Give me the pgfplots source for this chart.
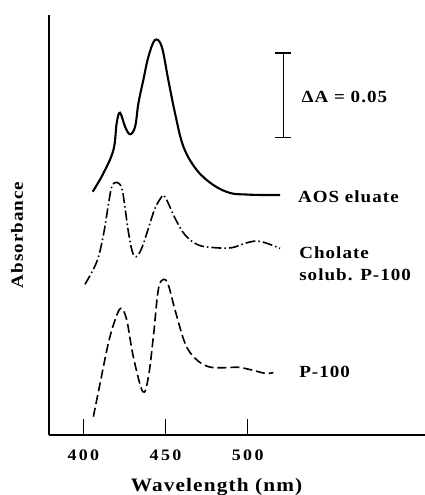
\documentclass[border=0pt]{standalone}
\usepackage{fontspec}
\setmainfont{Liberation Serif}[LetterSpace=6, FakeStretch=1.12]
\newfontfamily\tickfont{Liberation Serif}[LetterSpace=15, FakeStretch=1.12]
\usepackage{pgfplots}
\pgfplotsset{compat=1.18}

\begin{document}
\begin{tikzpicture}
\begin{axis}[
    scale only axis,
    width=376pt, height=420pt,
    xmin=379.1, xmax=607.9,
    ymin=0, ymax=420,
    axis x line=bottom, axis y line=left,
    axis line style={line width=1.4pt, -},
    xtick={400,450,500},
    ytick=\empty,
    tick align=inside,
    major tick length=16pt,
    tick style={line width=1.3pt, black},
    /pgf/number format/assume math mode=true,
    xticklabel style={font=\tickfont\bfseries\fontsize{16}{18}\selectfont, anchor=center, yshift=-20pt},
    xlabel={Wavelength (nm)},
    ylabel={Absorbance},
    xlabel style={font=\bfseries\fontsize{19}{21}\selectfont, at={(axis description cs:0.4455,0)}, anchor=center, yshift=-52pt},
    ylabel style={font=\bfseries\fontsize{17}{20}\selectfont, at={(axis description cs:0,0.476)}, anchor=center, yshift=32pt},
    clip=false,
]
% AOS eluate (solid)
\addplot[black, line width=2.1pt, smooth, tension=0.6] coordinates {
    (405.7,243.3) (412.2,261.7) (418.3,285) (420.3,312) (422.3,322.3)
    (425.4,308.3) (428.4,300.7) (431.5,308.3) (433.5,331.7) (436.5,355)
    (439.6,378.3) (443.6,395) (447.7,388.3) (451.7,355) (455.8,321.7)
    (460.9,288.3) (469.0,265) (479.1,250) (489.3,242) (499,240.5)
    (509,240) (519.7,240)
};
% Cholate solub. P-100 (dash-dot)
\addplot[black, line width=1.6pt, smooth, tension=0.6,
    dash pattern=on 10pt off 3pt on 1.5pt off 3pt] coordinates {
    (401.0,150.7) (408.2,173.3) (412.2,200) (415.2,230) (417.3,248.3)
    (420.3,252.7) (423.4,246.7) (425.4,226.7) (427.4,203.3) (429.8,183.3)
    (432.1,178.3) (435.5,186.7) (439.6,206.7) (443.6,226.7) (447.7,238.3)
    (449.1,239.3) (451.7,231.7) (455.8,216.7) (461.9,200) (470.0,190)
    (480.2,187.3) (490.3,187.3) (498.4,191.7) (505.5,194) (511.6,191.7)
    (519.7,186.7)
};
% P-100 (dashed)
\addplot[black, line width=1.6pt, smooth, tension=0.6,
    dash pattern=on 9pt off 4pt] coordinates {
    (406.1,18.3) (410.2,51.7) (415.2,91.7) (419.3,115) (422.9,126.7)
    (426.4,115) (430.4,78.3) (436.2,43.3) (439.6,58.3) (442.6,98.3)
    (445.6,145) (448.7,155.7) (451.7,150) (455.8,125) (461.9,91.7)
    (468.0,76.7) (476.1,68.3) (486.2,67.3) (494.3,67.7) (502.5,65)
    (510.6,61.7) (515.6,62.3)
};
% scale bar
\draw[line width=1.3pt] (axis cs:521.7,297.7) -- (axis cs:521.7,382);
\draw[line width=1.3pt] (axis cs:516.8,382) -- (axis cs:526.6,382);
\draw[line width=1.3pt] (axis cs:516.8,297.7) -- (axis cs:526.6,297.7);
\node[anchor=west, inner sep=0pt, font=\bfseries\fontsize{17}{20}\selectfont] at (axis cs:532.7,338.3) {ΔA = 0.05};
\node[anchor=west, inner sep=0pt, font=\bfseries\fontsize{17}{20}\selectfont] at (axis cs:530.5,238.3) {AOS eluate};
\node[anchor=west, inner sep=0pt, font=\bfseries\fontsize{17}{20}\selectfont] at (axis cs:531.3,182.3) {Cholate};
\node[anchor=west, inner sep=0pt, font=\bfseries\fontsize{17}{20}\selectfont] at (axis cs:531.3,160.7) {solub. P-100};
\node[anchor=west, inner sep=0pt, font=\bfseries\fontsize{17}{20}\selectfont] at (axis cs:531.3,62.7) {P-100};
\end{axis}
\pgfresetboundingbox
\path[use as bounding box] ([xshift=-49pt,yshift=-60pt]current axis.south west) rectangle ([yshift=15pt]current axis.north east);
\end{tikzpicture}
\end{document}
